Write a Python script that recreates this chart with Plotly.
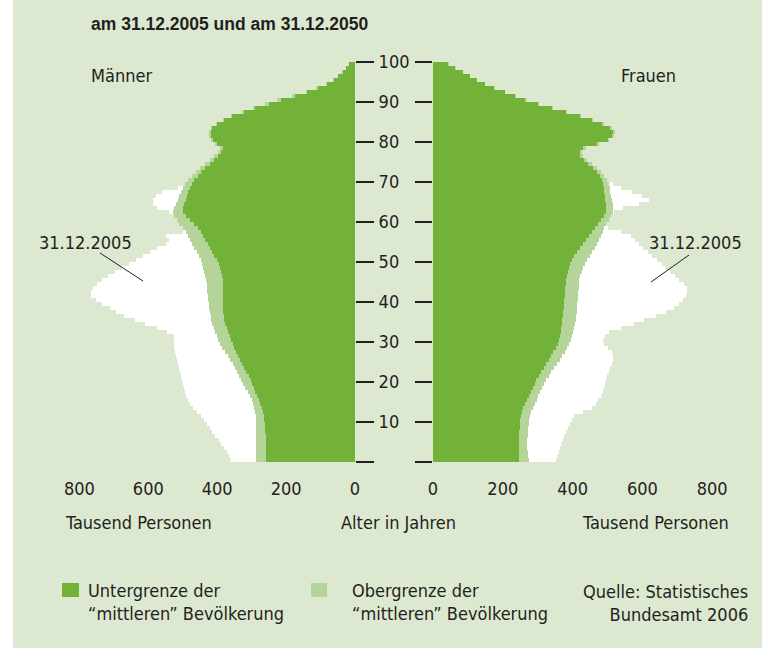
import numpy as np
import plotly.graph_objects as go

# ---------------- data (thousand persons, single years of age 0..99) ----------------
ages = list(range(100))

men_2005 = [360, 365, 372, 380, 388, 396, 405, 414, 422, 430,
            438, 446, 458, 470, 480, 486, 490, 494, 497, 500,
            502, 504, 508, 511, 514, 517, 520, 522, 524, 524,
            524, 526, 545, 575, 610, 640, 670, 695, 712, 735,
            752, 765, 765, 760, 748, 735, 718, 698, 676, 655,
            635, 615, 595, 575, 548, 540, 550, 500, 450, 410,
            385, 420, 540, 575, 585, 586, 578, 560, 515, 480,
            460, 440, 400, 360, 320, 280, 250, 220, 200, 180,
            160, 150, 140, 120, 100, 60, 50, 45, 40, 32,
            25, 18, 14, 10, 7, 5, 3, 2, 1, 1]

men_2050_upper = [287, 287, 287, 287, 287, 287, 287, 287, 287, 287,
                  287, 288, 290, 293, 296, 300, 306, 312, 318, 324,
                  330, 336, 342, 348, 355, 362, 370, 378, 385, 392,
                  398, 402, 406, 410, 414, 417, 419, 421, 423, 425,
                  427, 428, 429, 430, 431, 432, 434, 437, 440, 444,
                  448, 454, 460, 466, 472, 478, 485, 492, 500, 510,
                  518, 525, 528, 526, 520, 514, 510, 506, 500, 494,
                  485, 474, 462, 450, 436, 422, 408, 398, 392, 406,
                  418, 425, 424, 418, 404, 384, 360, 327, 296, 262,
                  225, 183, 142, 112, 83, 63, 49, 37, 27, 17]

men_2050_lower = [258, 258, 258, 258, 258, 259, 259, 260, 261, 262,
                  263, 265, 268, 271, 275, 279, 284, 289, 294, 299,
                  303, 309, 315, 321, 327, 333, 339, 345, 350, 355,
                  359, 364, 368, 372, 376, 379, 381, 382, 383, 384,
                  384, 384, 384, 384, 384, 384, 386, 389, 392, 396,
                  401, 408, 415, 421, 428, 435, 441, 448, 456, 466,
                  478, 490, 500, 500, 495, 490, 488, 484, 480, 474,
                  466, 456, 447, 435, 422, 410, 398, 390, 384, 400,
                  412, 419, 419, 414, 400, 380, 356, 323, 290, 250,
                  215, 175, 138, 108, 80, 62, 48, 36, 26, 16]

women_2005 = [352, 355, 360, 364, 368, 372, 376, 381, 386, 392,
              398, 404, 430, 455, 468, 474, 480, 486, 490, 493,
              496, 498, 503, 508, 513, 516, 516, 512, 500, 490,
              487, 492, 505, 540, 575, 605, 640, 668, 690, 705,
              717, 725, 729, 728, 718, 705, 692, 678, 665, 655,
              642, 628, 615, 602, 590, 578, 566, 540, 500, 470,
              450, 500, 520, 545, 590, 620, 600, 570, 540, 515,
              495, 470, 450, 430, 410, 390, 360, 330, 310, 290,
              270, 250, 240, 230, 200, 150, 120, 110, 100, 85,
              75, 60, 48, 38, 28, 20, 14, 9, 6, 4]

women_2050_upper = [274, 272, 271, 270, 270, 270, 271, 272, 273, 274,
                    275, 278, 282, 287, 292, 297, 302, 308, 313, 318,
                    324, 331, 338, 346, 355, 363, 370, 377, 384, 390,
                    395, 399, 402, 405, 408, 410, 411, 412, 413, 414,
                    415, 416, 416, 417, 418, 419, 422, 426, 431, 436,
                    442, 449, 456, 463, 470, 476, 481, 486, 490, 496,
                    504, 511, 516, 517, 515, 512, 510, 508, 506, 503,
                    499, 491, 481, 469, 456, 442, 430, 428, 437, 476,
                    505, 519, 521, 513, 489, 459, 424, 384, 345, 303,
                    268, 238, 207, 177, 150, 127, 107, 86, 65, 45]

women_2050_lower = [245, 245, 245, 245, 245, 245, 246, 247, 248, 249,
                    250, 252, 255, 259, 263, 268, 274, 280, 286, 291,
                    296, 303, 310, 317, 324, 331, 338, 345, 352, 357,
                    361, 364, 366, 368, 370, 371, 372, 373, 374, 375,
                    376, 377, 378, 379, 380, 381, 383, 386, 389, 393,
                    398, 405, 413, 421, 430, 438, 446, 455, 463, 472,
                    482, 490, 496, 497, 495, 493, 492, 491, 490, 488,
                    485, 478, 469, 458, 445, 432, 421, 420, 430, 470,
                    500, 514, 516, 508, 484, 455, 420, 380, 342, 300,
                    265, 235, 205, 175, 148, 125, 105, 85, 64, 44]

value_ticks = [0, 200, 400, 600, 800]
age_ticks = [0, 10, 20, 30, 40, 50, 60, 70, 80, 90, 100]
age_tick_labels = ["", "10", "20", "30", "40", "50", "60", "70", "80", "90", "100"]

# ---------------- styling ----------------
W, H = 762, 658
BG = "#dde8d0"
DARK = "#72b238"
LIGHT = "#b4d49a"
WHITE = "#ffffff"
INK = "#231f20"
FONT = "DejaVu Sans Condensed, Liberation Sans Narrow, Roboto, sans-serif"
TITLE_FONT = "Liberation Sans, Arial, sans-serif"
FS = 18

KL = 0.3445   # px per thousand, left panel
KR = 0.349    # px per thousand, right panel
L0, L1 = 13, 355     # left panel pixel extent (zero at right)
R0, R1 = 433, 760    # right panel pixel extent (zero at left)
Y_TOP, Y_BOT = 62, 462


def px(x):
    return x / W


def py(y):
    return 1 - y / H


age_mid = np.array(ages) + 0.5

fig = go.Figure()
for vals, col in [(men_2005, WHITE), (men_2050_upper, LIGHT), (men_2050_lower, DARK)]:
    fig.add_trace(go.Bar(x=vals, y=age_mid, orientation="h", width=1,
                         marker=dict(color=col, line=dict(width=0)),
                         xaxis="x", yaxis="y", hoverinfo="skip", showlegend=False))
for vals, col in [(women_2005, WHITE), (women_2050_upper, LIGHT), (women_2050_lower, DARK)]:
    fig.add_trace(go.Bar(x=vals, y=age_mid, orientation="h", width=1,
                         marker=dict(color=col, line=dict(width=0)),
                         xaxis="x2", yaxis="y2", hoverinfo="skip", showlegend=False))

ydom = [py(Y_BOT), py(Y_TOP)]
common_x = dict(tickvals=value_ticks, ticks="outside", ticklen=10,
                tickcolor="rgba(0,0,0,0)", showgrid=False, zeroline=False,
                showline=False, fixedrange=True, tickfont=dict(size=FS, color=INK))

fig.update_layout(
    width=W, height=H, margin=dict(l=0, r=0, t=0, b=0, autoexpand=False),
    paper_bgcolor="white", plot_bgcolor="rgba(0,0,0,0)",
    barmode="overlay", bargap=0, showlegend=False,
    font=dict(family=FONT, size=FS, color=INK),
    xaxis=dict(domain=[px(L0), px(L1)], range=[(L1 - L0) / KL, 0], anchor="y",
               automargin=False, **common_x),
    xaxis2=dict(domain=[px(R0), px(R1)], range=[0, (R1 - R0) / KR], anchor="y2",
                automargin=False, **common_x),
    yaxis=dict(domain=ydom, range=[0, 100], side="right", anchor="x",
               tickvals=age_ticks, ticktext=age_tick_labels, ticks="outside",
               ticklen=18, tickwidth=1.5, tickcolor=INK, ticklabelstandoff=1,
               showgrid=False, zeroline=False, showline=False, fixedrange=True,
               automargin=False, tickfont=dict(size=FS, color=INK)),
    yaxis2=dict(domain=ydom, range=[0, 100], side="left", anchor="x2",
                tickvals=age_ticks, ticks="outside", ticklen=17, tickwidth=1.5,
                tickcolor=INK, showticklabels=False, showgrid=False,
                zeroline=False, showline=False, fixedrange=True, automargin=False),
)

shapes = [
    dict(type="rect", xref="paper", yref="paper", x0=px(13), x1=1, y0=py(648), y1=1,
         fillcolor=BG, line=dict(width=0), layer="below"),
    dict(type="rect", xref="paper", yref="paper", x0=px(62), x1=px(79), y0=py(597), y1=py(583),
         fillcolor=DARK, line=dict(width=0)),
    dict(type="rect", xref="paper", yref="paper", x0=px(311), x1=px(327), y0=py(597), y1=py(583),
         fillcolor=LIGHT, line=dict(width=0)),
    dict(type="line", xref="paper", yref="paper", x0=px(100), y0=py(253), x1=px(143), y1=py(281),
         line=dict(color=INK, width=1)),
    dict(type="line", xref="paper", yref="paper", x0=px(689), y0=py(255), x1=px(651), y1=py(282),
         line=dict(color=INK, width=1)),
]
fig.update_layout(shapes=shapes)


def ann(text, x, y, xanchor="left", align="left", family=FONT, size=FS):
    fig.add_annotation(text=text, x=px(x), y=py(y), xref="paper", yref="paper",
                       xanchor=xanchor, yanchor="middle", align=align, showarrow=False,
                       font=dict(family=family, size=size, color=INK))


ann("<b>am 31.12.2005 und am 31.12.2050</b>", 89, 24, family=TITLE_FONT, size=17.5)
ann("Männer", 89, 76)
ann("Frauen", 619, 75)
ann("31.12.2005", 37, 243)
ann("31.12.2005", 647, 243)
ann("Tausend Personen", 63, 522)
ann("Alter in Jahren", 399, 522, xanchor="center", align="center")
ann("Tausend Personen", 731, 522, xanchor="right", align="right")
ann("Untergrenze der<br>“mittleren” Bevölkerung", 86, 601.5)
ann("Obergrenze der<br>“mittleren” Bevölkerung", 350, 601.5)
ann("Quelle: Statistisches<br>Bundesamt 2006", 750, 602.5, xanchor="right", align="right")

fig.write_html(
    "out.html",
    config={"displayModeBar": False},
    post_script="document.body.style.margin='0';document.body.style.overflow='hidden';",
)
